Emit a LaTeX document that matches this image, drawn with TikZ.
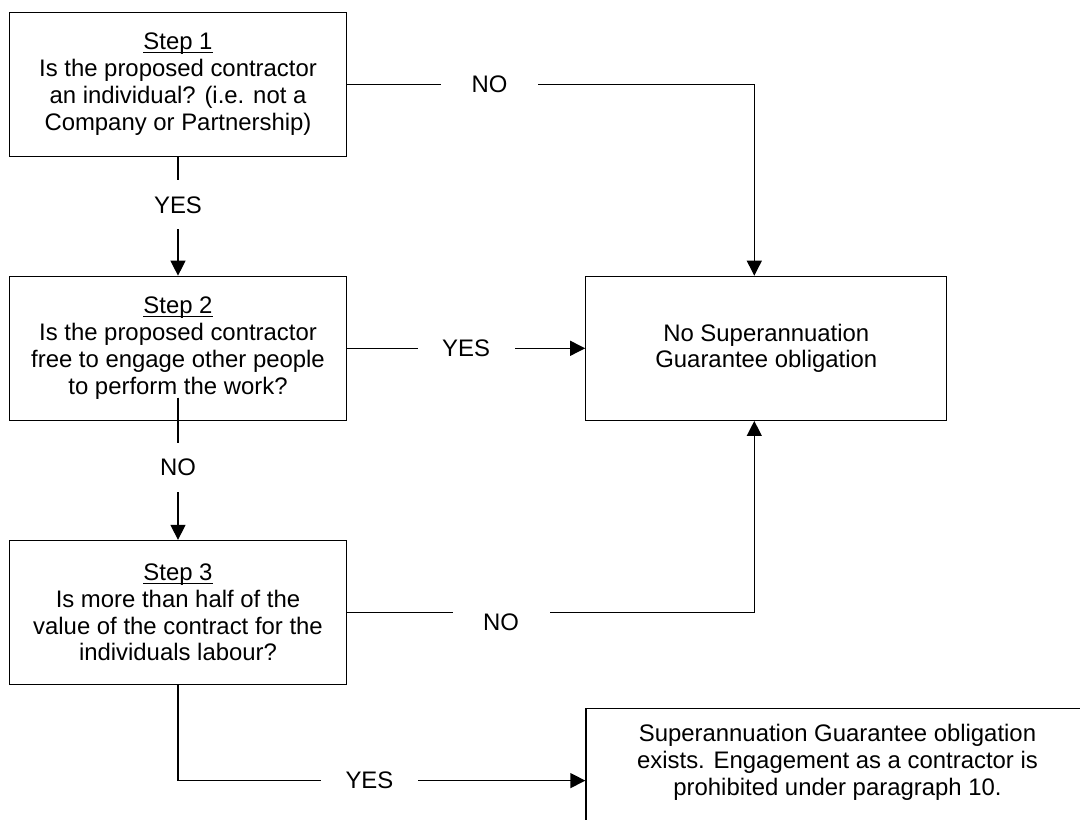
\documentclass[tikz,border=0pt]{standalone}
\usepackage{fontspec}
\setmainfont{Liberation Sans}
\usetikzlibrary{arrows.meta, positioning}

\newcommand{\steptitle}[1]{\setbox0\hbox{#1}\rlap{\rule[-3.3pt]{\wd0}{1.1pt}}\box0}

\begin{document}
\begin{tikzpicture}[
            x=1pt, y=-1pt,
            box/.style={draw, line width=1.3pt, align=center, minimum width=337pt, minimum height=144pt, inner sep=0pt, font=\fontsize{23.9}{26.8}\selectfont},
            boxtext/.style={align=center, inner sep=0pt, font=\fontsize{23.9}{26.8}\selectfont},
            answer/.style={fill=white, minimum width=97pt, minimum height=49pt, inner sep=0pt, font=\fontsize{23.9}{26.8}\selectfont},
            flow/.style={-{Triangle[length=15pt, width=15pt]}, line width=1.3pt}
        ]

        \useasboundingbox (0,0) rectangle (1080,820);
        \clip (0,0) rectangle (1080,820);

        % Questions (manual layout to match figure)
        \node[box] (step1) at (178, 84.3) {\steptitle{Step 1}\\ Is the proposed contractor\\ an individual? (i.e. not a\\ Company or Partnership)};
        \node[box] (step2) at (178, 348.3) {\steptitle{Step 2}\\ Is the proposed contractor\\ free to engage other people\\ to perform the work?};
        \node[box] (step3) at (178, 612.5) {\steptitle{Step 3}\\ Is more than half of the\\ value of the contract for the\\ individuals labour?};

        % Outcomes
        \node[box, minimum width=361pt] (nosg) at (766.3, 348.3) {No Superannuation\\ Guarantee obligation};
        \node[box, minimum width=503pt] (sgexists) at (837.5, 780.6) {};
        \node[boxtext, below=16pt of sgexists.north] (sgtext) {Superannuation Guarantee obligation\\ exists. Engagement as a contractor is\\ prohibited under paragraph 10.};

        % Connectors
        \draw[flow] (step1.east) -| node[answer, pos=0.175] {NO} ([xshift=-12pt]nosg.north);
        \draw[flow] (step1.south) -- node[answer, pos=0.404] {YES} (step2.north);

        \draw[flow] (step2.east) -- node[answer] {YES} (nosg.west);
        \draw[flow] ([yshift=23.3pt]step2.south) -- node[answer, pos=0.49] {NO} (step3.north);

        \draw[flow] (step3.east) -| node[answer, pos=0.189, yshift=-10pt] {NO} ([xshift=-12pt]nosg.south);
        \draw[flow] (step3.south) |- node[answer, pos=0.735] {YES} (sgexists.west);

\end{tikzpicture}
\end{document}
